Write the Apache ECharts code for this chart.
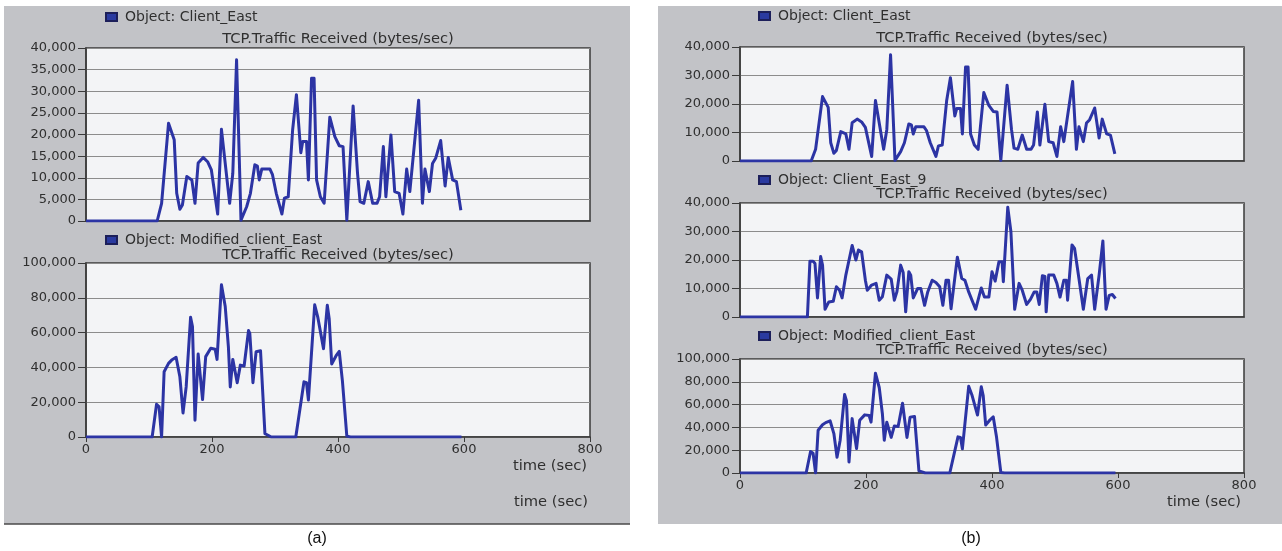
<!DOCTYPE html>
<html>
<head>
<meta charset="utf-8">
<script src="https://cdn.jsdelivr.net/npm/echarts@6/dist/echarts.min.js"></script>
<style>
  html, body { margin: 0; padding: 0; background: #ffffff; }
  #chart { width: 1282px; height: 551px; }
</style>
</head>
<body>
<div id="chart"></div>
<script>
// TCP traffic received, sampled over simulation time (sec -> bytes/sec)
const clientEastTime = [0, 113, 120, 131, 140, 144, 149, 153, 160, 168, 173, 178, 186, 193, 199, 209, 215, 228, 233, 239, 246, 255, 261, 268, 272, 275, 279, 292, 296, 302, 311, 315, 321, 328, 334, 341, 344, 350, 353, 358, 362, 366, 372, 378, 387, 395, 402, 408, 414, 424, 431, 435, 441, 448, 455, 462, 466, 472, 476, 484, 490, 497, 503, 509, 514, 528, 534, 538, 545, 550, 555, 563, 566, 570, 575, 582, 588, 595];
const clientEastRate = [0, 0, 4100, 22600, 18800, 6400, 2700, 3700, 10300, 9500, 4100, 13400, 14700, 13700, 11800, 1600, 21200, 4100, 11000, 37300, 200, 3300, 6400, 13000, 12700, 9500, 12000, 12000, 10700, 6400, 1600, 5300, 5600, 21100, 29200, 15800, 18400, 18400, 9500, 33000, 33000, 9500, 5600, 4100, 24000, 19500, 17400, 17200, 200, 26600, 11000, 4500, 4100, 9100, 4100, 4100, 5600, 17200, 5600, 19900, 6800, 6400, 1600, 12000, 6800, 27900, 4100, 12000, 6800, 13300, 14500, 18600, 18400, 8100, 14700, 9500, 9100, 2500];

const clientEast9Time = [0, 107, 111, 116, 119, 123, 128, 131, 135, 141, 148, 153, 158, 162, 168, 178, 181, 184, 188, 193, 199, 202, 209, 216, 221, 226, 233, 240, 245, 249, 255, 259, 263, 268, 271, 275, 282, 287, 293, 298, 305, 311, 317, 322, 327, 331, 335, 345, 352, 357, 363, 374, 383, 388, 395, 400, 405, 411, 416, 418, 425, 430, 436, 443, 448, 455, 461, 467, 471, 475, 480, 484, 486, 490, 498, 503, 508, 514, 518, 520, 527, 531, 538, 545, 552, 558, 563, 570, 576, 581, 586, 591, 596];
const clientEast9Rate = [0, 0, 19600, 19600, 18800, 6700, 21200, 18200, 2700, 5300, 5500, 10600, 9400, 6700, 14700, 25100, 24600, 20000, 23500, 22900, 12900, 9400, 11200, 11800, 5900, 7100, 14700, 13300, 5900, 8800, 18200, 15600, 1800, 15900, 14700, 6700, 10000, 10000, 4100, 8800, 12900, 12100, 10600, 4100, 12900, 12900, 2900, 21000, 13500, 12900, 8800, 2700, 10200, 7000, 7000, 15900, 12600, 19400, 19400, 12400, 38500, 30000, 2700, 11800, 9400, 4400, 6200, 8800, 8800, 4400, 14500, 14200, 1800, 14700, 14700, 11800, 7000, 12900, 12900, 5900, 25300, 24100, 13500, 2700, 13500, 14700, 2700, 14700, 26700, 2700, 7600, 7900, 6500];

const modifiedTime = [0, 105, 112, 116, 120, 124, 131, 136, 143, 149, 154, 159, 166, 169, 173, 178, 181, 185, 190, 198, 205, 208, 215, 221, 226, 229, 233, 236, 240, 245, 251, 258, 260, 265, 270, 277, 284, 289, 294, 333, 346, 350, 353, 363, 368, 377, 383, 386, 390, 397, 402, 407, 414, 420, 596];
const modifiedRate = [0, 0, 18800, 17300, 0, 37500, 42300, 44200, 45800, 34600, 13800, 28800, 68800, 63500, 9600, 47700, 47100, 21500, 46200, 51000, 50400, 44600, 87500, 75000, 52000, 28800, 44600, 44200, 31200, 41300, 40800, 61200, 59600, 31200, 49000, 49600, 1900, 1000, 0, 0, 31700, 31200, 21200, 76000, 68700, 50800, 75700, 68000, 42000, 46700, 49200, 32300, 500, 0, 0];

// axis ranges: [min, max, step]
const timeAxis = [0, 800, 200];
const rateAxisSmall5k = [0, 40000, 5000];
const rateAxisSmall10k = [0, 40000, 10000];
const rateAxisLarge = [0, 100000, 20000];

const objectNames = ['Object: Client_East', 'Object: Modified_client_East', 'Object: Client_East_9'];
const metricName = 'TCP.Traffic Received (bytes/sec)';
const timeName = 'time (sec)';

const pairs = (t, v) => t.map((x, i) => [x, v[i]]);
const seriesData = {
  east: pairs(clientEastTime, clientEastRate),
  east9: pairs(clientEast9Time, clientEast9Rate),
  modified: pairs(modifiedTime, modifiedRate)
};

const FONT = 'DejaVu Sans';
const TEXT = '#2f2f2f';
const LINE = '#2c34a4';
const LABEL_FONT = '14.7px "DejaVu Sans"';

// panel layout (pixel boxes of each plot)
const plots = [
  { left: 86, top: 48, width: 504, height: 173, axis: rateAxisSmall5k, data: 'east', name: objectNames[0], legendX: 105, legendY: 18, titleY: 39, showX: false },
  { left: 86, top: 263, width: 504, height: 174, axis: rateAxisLarge, data: 'modified', name: objectNames[1], legendX: 105, legendY: 241, titleY: 255, showX: true },
  { left: 740, top: 47, width: 504, height: 114, axis: rateAxisSmall10k, data: 'east', name: objectNames[0], legendX: 758, legendY: 17, titleY: 38, showX: false },
  { left: 740, top: 203, width: 504, height: 114, axis: rateAxisSmall10k, data: 'east9', name: objectNames[2], legendX: 758, legendY: 181, titleY: 194, showX: false },
  { left: 740, top: 359, width: 504, height: 114, axis: rateAxisLarge, data: 'modified', name: objectNames[1], legendX: 758, legendY: 337, titleY: 350, showX: true }
];

const grid = [], xAxis = [], yAxis = [], series = [], legend = [];
const graphics = [
  { type: 'rect', z: -10, shape: { x: 4, y: 6, width: 626, height: 518 }, style: { fill: '#c2c3c7' } },
  { type: 'line', z: -9, shape: { x1: 4, y1: 524, x2: 630, y2: 524 }, style: { stroke: '#4a4a4a', lineWidth: 1.5 } },
  { type: 'rect', z: -10, shape: { x: 658, y: 6, width: 624, height: 518 }, style: { fill: '#c2c3c7' } }
];

plots.forEach((p, i) => {
  grid.push({
    left: p.left, top: p.top, width: p.width, height: p.height,
    show: true, backgroundColor: '#f3f4f6', borderColor: '#3a3a3a', borderWidth: 1.5
  });
  xAxis.push({
    type: 'value', gridIndex: i,
    min: timeAxis[0], max: timeAxis[1], interval: timeAxis[2],
    axisLine: { show: true, lineStyle: { color: '#3a3a3a', width: 1.5 } },
    axisTick: { show: p.showX, length: 5, lineStyle: { color: '#3a3a3a' } },
    axisLabel: { show: p.showX, margin: 6, color: TEXT, fontFamily: FONT, fontSize: 13 },
    splitLine: { show: false }
  });
  yAxis.push({
    type: 'value', gridIndex: i,
    min: p.axis[0], max: p.axis[1], interval: p.axis[2],
    axisLine: { show: true, lineStyle: { color: '#3a3a3a', width: 1.5 } },
    axisTick: { show: true, length: 8, lineStyle: { color: '#3a3a3a' } },
    axisLabel: { margin: 10, color: TEXT, fontFamily: FONT, fontSize: 13,
      formatter: v => v.toLocaleString('en-US') },
    splitLine: { show: true, lineStyle: { color: '#8c8c8c', width: 1 } }
  });
  series.push({
    type: 'line', name: p.name, xAxisIndex: i, yAxisIndex: i,
    data: seriesData[p.data], showSymbol: false, symbol: 'none',
    lineStyle: { color: LINE, width: 3, join: 'round' },
    itemStyle: { color: '#2a3aa0', borderColor: '#1c1f5a', borderWidth: 1 },
    animation: false
  });
  legend.push({
    data: [p.name], left: p.legendX, top: p.legendY - 8, padding: 0,
    icon: 'rect', itemWidth: 11, itemHeight: 8, selectedMode: false,
    textStyle: { color: TEXT, fontFamily: FONT, fontSize: 14, padding: [0, 0, 0, 3] }
  });
  graphics.push({
    type: 'text', z: 10, x: p.left + p.width / 2, y: p.titleY,
    style: { text: metricName, fill: TEXT, font: LABEL_FONT, textAlign: 'center', textVerticalAlign: 'middle' }
  });
});

graphics.push(
  { type: 'text', z: 10, x: 587, y: 466, style: { text: timeName, fill: TEXT, font: LABEL_FONT, textAlign: 'right', textVerticalAlign: 'middle' } },
  { type: 'text', z: 10, x: 588, y: 502, style: { text: timeName, fill: TEXT, font: LABEL_FONT, textAlign: 'right', textVerticalAlign: 'middle' } },
  { type: 'text', z: 10, x: 1241, y: 502, style: { text: timeName, fill: TEXT, font: LABEL_FONT, textAlign: 'right', textVerticalAlign: 'middle' } },
  { type: 'text', z: 10, x: 317, y: 539, style: { text: '(a)', fill: '#111111', font: '16px "Liberation Sans"', textAlign: 'center', textVerticalAlign: 'middle' } },
  { type: 'text', z: 10, x: 971, y: 539, style: { text: '(b)', fill: '#111111', font: '16px "Liberation Sans"', textAlign: 'center', textVerticalAlign: 'middle' } }
);

const chart = echarts.init(document.getElementById('chart'), null, { renderer: 'canvas' });
chart.setOption({
  backgroundColor: '#ffffff',
  animation: false,
  color: [LINE],
  grid, xAxis, yAxis, series, legend,
  graphic: { elements: graphics }
});
</script>
</body>
</html>
